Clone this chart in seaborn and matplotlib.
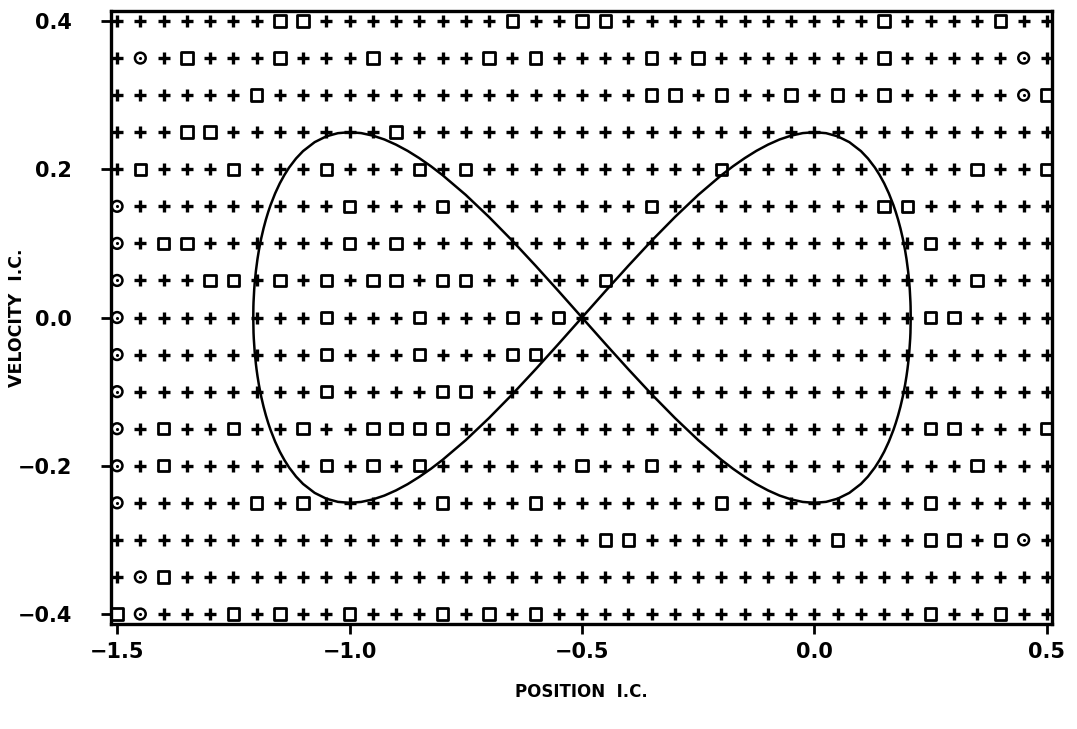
import numpy as np
import pandas as pd
import matplotlib
matplotlib.use("Agg")
import matplotlib.pyplot as plt
import seaborn as sns

# Initial-condition grid: positions (x) and velocities (y)
positions = [-1.50, -1.45, -1.40, -1.35, -1.30, -1.25, -1.20, -1.15, -1.10, -1.05,
             -1.00, -0.95, -0.90, -0.85, -0.80, -0.75, -0.70, -0.65, -0.60, -0.55,
             -0.50, -0.45, -0.40, -0.35, -0.30, -0.25, -0.20, -0.15, -0.10, -0.05,
             0.00, 0.05, 0.10, 0.15, 0.20, 0.25, 0.30, 0.35, 0.40, 0.45, 0.50]
velocities = [0.40, 0.35, 0.30, 0.25, 0.20, 0.15, 0.10, 0.05, 0.00,
              -0.05, -0.10, -0.15, -0.20, -0.25, -0.30, -0.35, -0.40]

# Outcome of each initial condition, one string per velocity row (top to bottom):
# '+' plus, 's' square, 'o' ring
outcome_rows = [
    "+++++++ss++++++++s++s" "s+++++++++++s++++s++",
    "+o+s+++s+++s++++s+s++" "++s+s+++++++s+++++o+",
    "++++++s++++++++++++++" "++ss+s++s+s+s+++++os",
    "+++ss+++++++s++++++++" "++++++++++++++++++++",
    "+s+++s+++s+++s+s+++++" "+++++s++++++++++s++s",
    "o+++++++++s+++s++++++" "++s+++++++++ss++++++",
    "o+ss++++++s+s++++++++" "++++++++++++++s+++++",
    "o+++ss+s+s+ss+ss+++++" "s+++++++++++++++s+++",
    "o++++++++s+++s+++s+s+" "++++++++++++++ss++++",
    "o++++++++s+++s+++ss++" "++++++++++++++++++++",
    "o++++++++s++++ss+++++" "++++++++++++++++++++",
    "o+s++s++s++ssss++++++" "++++++++++++++ss+++s",
    "o+s++++++s+s+s++++++s" "++s+++++++++++++s+++",
    "o+++++s+s+++++s+++s++" "+++++s++++++++s+++++",
    "+++++++++++++++++++++" "ss++++++++s+++ss+so+",
    "+os++++++++++++++++++" "++++++++++++++++++++",
    "so+++s+s++s+++s+s+s++" "++++++++++++++s++s++",
]

# One quadrant of the separatrix: offset from the saddle at x = -0.5, and velocity
lobe_dx = [0.0, 0.05, 0.10, 0.15, 0.20, 0.25, 0.30, 0.325, 0.35, 0.375, 0.40,
           0.425, 0.45, 0.475, 0.50, 0.525, 0.55, 0.575, 0.60, 0.615, 0.63,
           0.64, 0.65, 0.66, 0.67, 0.675, 0.68, 0.685, 0.69, 0.695, 0.698,
           0.70, 0.7015, 0.703, 0.704, 0.705, 0.706, 0.7065, 0.7068, 0.7071]
lobe_v = [0.0, 0.0353, 0.0700, 0.1037, 0.1356, 0.1654, 0.1921, 0.2041, 0.2150,
          0.2248, 0.2332, 0.2402, 0.2454, 0.2488, 0.2500, 0.2487, 0.2444,
          0.2366, 0.2245, 0.2146, 0.2023, 0.1924, 0.1810, 0.1675, 0.1515,
          0.1422, 0.1319, 0.1202, 0.1067, 0.0906, 0.0790, 0.0700, 0.0623,
          0.0535, 0.0466, 0.0385, 0.0279, 0.0207, 0.0147, 0.0]
saddle_x = -0.5

xtick_vals = [-1.5, -1.0, -0.5, 0.0, 0.5]
ytick_vals = [-0.4, -0.2, 0.0, 0.2, 0.4]

records = []
for v, row in zip(velocities, outcome_rows):
    assert len(row) == len(positions)
    for x, c in zip(positions, row):
        records.append({"position": x, "velocity": v, "outcome": c})
grid = pd.DataFrame(records)

# Closed figure-eight traced through the four quadrants
dx = np.array(lobe_dx)
vv = np.array(lobe_v)
curve_x = np.concatenate([saddle_x + dx, saddle_x + dx[::-1], saddle_x - dx, saddle_x - dx[::-1]])
curve_v = np.concatenate([vv, -vv[::-1], vv, -vv[::-1]])
curve = pd.DataFrame({"position": curve_x, "velocity": curve_v})

sns.set_theme(style="white")
plt.rcParams["font.family"] = ["DejaVu Sans"]

fig = plt.figure(figsize=(10.77, 7.29), dpi=100)
ax = fig.add_axes([0.1031, 0.1440, 0.8737, 0.8409])

plus = grid[grid["outcome"] == "+"]
square = grid[grid["outcome"] == "s"]
ring = grid[grid["outcome"] == "o"]

sns.scatterplot(data=plus, x="position", y="velocity", marker="+", s=75,
                color="black", linewidth=2.4, ax=ax, zorder=3)
sns.scatterplot(data=square, x="position", y="velocity", marker="s", s=68,
                facecolor="none", edgecolor="black", linewidth=2.0, ax=ax, zorder=3)
sns.scatterplot(data=ring, x="position", y="velocity", marker="o", s=60,
                facecolor="none", edgecolor="black", linewidth=1.8, ax=ax, zorder=3)
sns.scatterplot(data=ring, x="position", y="velocity", marker="o", s=5,
                color="black", linewidth=0, ax=ax, zorder=3)

sns.lineplot(data=curve, x="position", y="velocity", sort=False, estimator=None,
             color="black", linewidth=1.8, ax=ax, zorder=4)

ax.set_xlim(-1.513, 0.511)
ax.set_ylim(-0.4135, 0.4135)
ax.set_xticks(xtick_vals)
ax.set_yticks(ytick_vals)
ax.set_xticklabels([f"{t:.1f}".replace("-", "\u2212") for t in xtick_vals],
                   fontsize=15, fontweight="bold", color="black")
ax.set_yticklabels([f"{t:.1f}".replace("-", "\u2212") for t in ytick_vals],
                   fontsize=15, fontweight="bold", color="black")
ax.tick_params(axis="x", direction="out", length=7, width=2, color="black",
               bottom=True, pad=6)
ax.tick_params(axis="y", direction="out", length=7, width=2, color="black",
               left=True, pad=21)
for side in ["left", "right", "top", "bottom"]:
    ax.spines[side].set_visible(True)
    ax.spines[side].set_color("black")
    ax.spines[side].set_linewidth(2.4)

ax.set_xlabel("POSITION  I.C.", fontsize=12, fontweight="bold", labelpad=15,
              color="black")
ax.set_ylabel("VELOCITY  I.C.", fontsize=12.5, fontweight="bold", color="black")
ax.yaxis.set_label_coords(-0.0905, 0.5)

fig.savefig("out.png", dpi=100, facecolor="white")
